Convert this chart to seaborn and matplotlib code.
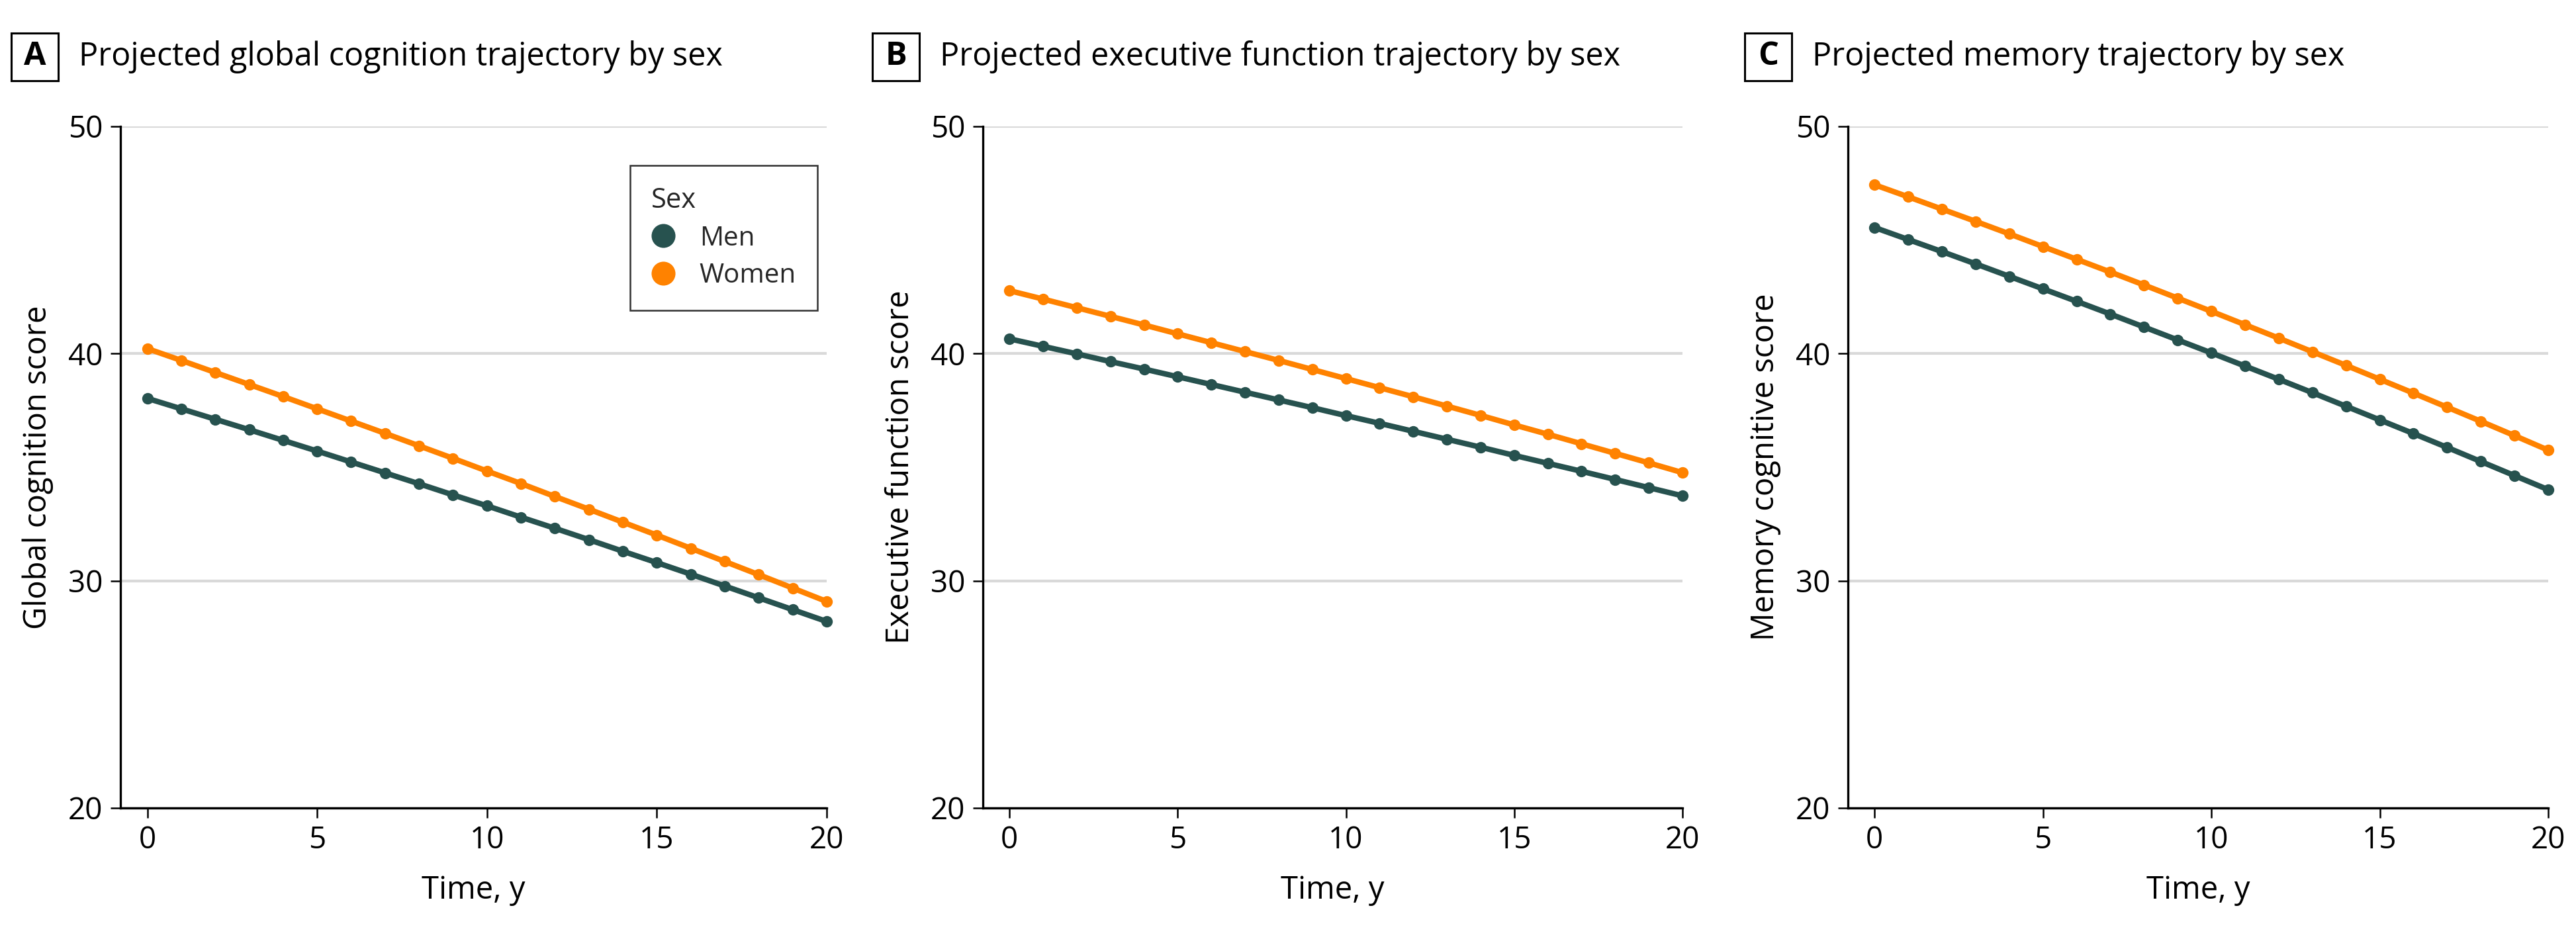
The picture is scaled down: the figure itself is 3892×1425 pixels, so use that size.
import matplotlib
matplotlib.use("Agg")
import matplotlib.pyplot as plt
from matplotlib.lines import Line2D
from matplotlib.patches import Rectangle
import seaborn as sns
import pandas as pd

# ---------------- data ----------------
time_y = list(range(21))
sexes = ["Men", "Women"]

global_men = [38.03, 37.57, 37.11, 36.65, 36.18, 35.71, 35.23, 34.75, 34.27, 33.78, 33.30,
              32.80, 32.31, 31.81, 31.30, 30.80, 30.29, 29.77, 29.25, 28.73, 28.21]
global_women = [40.22, 39.70, 39.17, 38.64, 38.11, 37.57, 37.03, 36.49, 35.94, 35.39, 34.83,
                34.28, 33.71, 33.15, 32.58, 32.01, 31.43, 30.85, 30.27, 29.68, 29.09]
exec_men = [40.65, 40.32, 39.99, 39.65, 39.32, 38.98, 38.64, 38.30, 37.96, 37.62, 37.27,
            36.93, 36.58, 36.23, 35.88, 35.52, 35.17, 34.82, 34.46, 34.10, 33.74]
exec_women = [42.77, 42.40, 42.02, 41.64, 41.26, 40.87, 40.48, 40.09, 39.70, 39.30, 38.90,
              38.50, 38.10, 37.69, 37.28, 36.86, 36.45, 36.03, 35.61, 35.19, 34.76]
mem_men = [45.55, 45.02, 44.49, 43.95, 43.40, 42.85, 42.30, 41.74, 41.17, 40.60, 40.03,
           39.45, 38.87, 38.28, 37.68, 37.08, 36.48, 35.87, 35.25, 34.63, 34.01]
mem_women = [47.43, 46.90, 46.36, 45.82, 45.27, 44.71, 44.15, 43.59, 43.02, 42.44, 41.86,
              41.27, 40.68, 40.08, 39.48, 38.87, 38.26, 37.64, 37.02, 36.39, 35.75]

panel_letters = ["A", "B", "C"]
panel_titles = ["Projected global cognition trajectory by sex",
                "Projected executive function trajectory by sex",
                "Projected memory trajectory by sex"]
y_labels = ["Global cognition score", "Executive function score", "Memory cognitive score"]
x_label = "Time, y"
y_ticks = [20, 30, 40, 50]
x_ticks = [0, 5, 10, 15, 20]
legend_title = "Sex"

series = [(global_men, global_women), (exec_men, exec_women), (mem_men, mem_women)]
palette = {"Men": "#27524F", "Women": "#FF8200"}

# ---------------- style ----------------
sns.set_theme(style="white")
plt.rcParams["font.family"] = ["Open Sans", "DejaVu Sans"]

W, H = 3892, 1425
fig = plt.figure(figsize=(W / 100, H / 100), dpi=100)

ax_left_px = [182, 1485, 2792]
ax_right_px = [1249, 2542, 3850]
ax_top_px, ax_bot_px = 191, 1221
box_left_px = [17, 1318, 2636]
box_w, box_top, box_bot = 71, 50, 122

tick_fs = 33
label_fs = 34
title_fs = 35

for i in range(3):
    l = ax_left_px[i] / W
    w = (ax_right_px[i] - ax_left_px[i]) / W
    b = 1 - ax_bot_px / H
    h = (ax_bot_px - ax_top_px) / H
    ax = fig.add_axes([l, b, w, h])
    men, women = series[i]
    df = pd.DataFrame({
        "Time": time_y + time_y,
        "Score": men + women,
        "Sex": ["Men"] * len(time_y) + ["Women"] * len(time_y),
    })
    sns.lineplot(data=df, x="Time", y="Score", hue="Sex", hue_order=sexes,
                 palette=palette, marker="o", markersize=12.5, markeredgewidth=0,
                 linewidth=6, ax=ax, legend=False, clip_on=False, zorder=3)
    ax.set_xlim(-0.79, 20)
    ax.set_ylim(20, 50)
    ax.set_yticks(y_ticks)
    ax.set_xticks(x_ticks)
    ax.yaxis.grid(True, color="#d9d9d9", linewidth=3.0)
    ax.xaxis.grid(False)
    ax.set_axisbelow(True)
    for s in ["top", "right"]:
        ax.spines[s].set_visible(False)
    for s in ["left", "bottom"]:
        ax.spines[s].set_color("black")
        ax.spines[s].set_linewidth(2.4)
    ax.tick_params(axis="both", which="major", direction="out", length=11, width=1.8,
                   color="black", labelsize=tick_fs, labelcolor="black", pad=8,
                   left=True, bottom=True)
    ax.set_xlabel(x_label, fontsize=label_fs, color="black", labelpad=20)
    ax.set_ylabel(y_labels[i], fontsize=label_fs, color="black", labelpad=16)

    # panel letter box and title
    bx = box_left_px[i]
    fig.patches.append(Rectangle((bx / W, 1 - box_bot / H), box_w / W,
                                 (box_bot - box_top) / H, transform=fig.transFigure,
                                 facecolor="white", edgecolor="black", linewidth=2.2))
    yc = 1 - (box_top + box_bot) / 2 / H
    fig.text((bx + box_w / 2) / W, yc, panel_letters[i], fontsize=title_fs,
             fontweight="bold", ha="center", va="center", color="black")
    fig.text((bx + 102) / W, yc, panel_titles[i], fontsize=title_fs,
             ha="left", va="center", color="black")

    if i == 0:
        handles = [Line2D([0], [0], marker="o", linestyle="none", markersize=26,
                          markerfacecolor=palette[s], markeredgewidth=0) for s in sexes]
        leg = ax.legend(handles, sexes, title=legend_title, loc="upper right",
                        bbox_to_anchor=(0.987, 0.943), borderaxespad=0, frameon=True,
                        fontsize=29, title_fontsize=30,
                        handletextpad=0.9, handlelength=0.9,
                        borderpad=0.8, labelspacing=0.4, fancybox=False,
                        alignment="left")
        leg.get_frame().set_edgecolor("black")
        leg.get_frame().set_linewidth(1.8)

fig.savefig("out.png", dpi=100, facecolor="white")
